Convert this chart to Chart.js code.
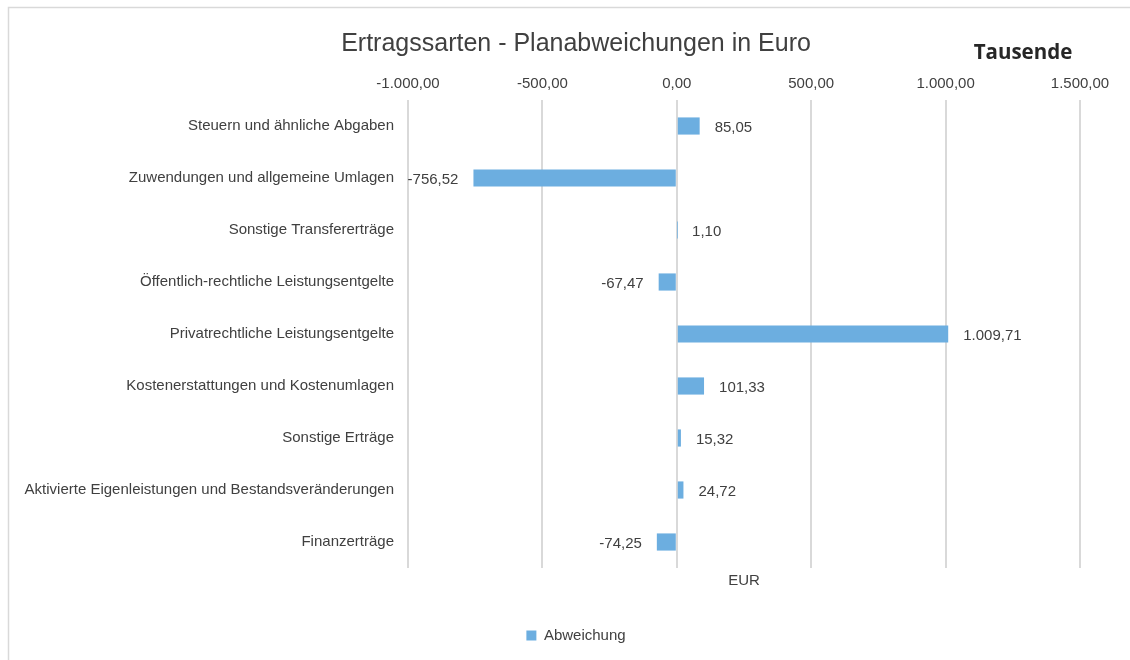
<!DOCTYPE html>
<html lang="de">
<head>
  <meta charset="UTF-8" />
  <title>Ertragssarten - Planabweichungen in Euro</title>
  <script src="https://cdn.jsdelivr.net/npm/chart.js"></script>
  <style>
    * { margin: 0; padding: 0; box-sizing: border-box; }
    body { background: #ffffff; width: 1130px; height: 660px; overflow: hidden; }
    canvas { display: block; }
  </style>
</head>
<body>
  <canvas id="chart" width="1130" height="660"></canvas>

  <script>
    const categories = [
      "Steuern und ähnliche Abgaben",
      "Zuwendungen und allgemeine Umlagen",
      "Sonstige Transfererträge",
      "Öffentlich-rechtliche Leistungsentgelte",
      "Privatrechtliche Leistungsentgelte",
      "Kostenerstattungen und Kostenumlagen",
      "Sonstige Erträge",
      "Aktivierte Eigenleistungen und Bestandsveränderungen",
      "Finanzerträge"
    ];
    const abweichung = [85.05, -756.52, 1.10, -67.47, 1009.71, 101.33, 15.32, 24.72, -74.25];
    const xTicks = [-1000, -500, 0, 500, 1000, 1500];

    const textColor = '#404040';
    const barColor = '#6caee0';
    const gridColor = '#d9d9d9';
    const font = 'Liberation Sans, Arial, sans-serif';

    // 1.234,56 style
    function fmtDE(v) {
      const parts = Math.abs(v).toFixed(2).split('.');
      const int = parts[0].replace(/\B(?=(\d{3})+(?!\d))/g, '.');
      return (v < 0 ? '-' : '') + int + ',' + parts[1];
    }

    // frame, value labels and extra texts
    const extras = {
      id: 'extras',
      beforeDraw(chart) {
        const ctx = chart.ctx;
        ctx.save();
        ctx.fillStyle = '#fff';
        ctx.fillRect(0, 0, chart.width, chart.height);
        ctx.strokeStyle = gridColor;
        ctx.lineWidth = 1.5;
        ctx.beginPath();
        ctx.moveTo(8.5, chart.height);
        ctx.lineTo(8.5, 7.5);
        ctx.lineTo(chart.width, 7.5);
        ctx.stroke();
        ctx.restore();
      },
      afterDatasetsDraw(chart) {
        const ctx = chart.ctx;
        const area = chart.chartArea;
        ctx.save();
        ctx.fillStyle = textColor;
        ctx.font = '15px ' + font;
        ctx.textBaseline = 'middle';
        chart.getDatasetMeta(0).data.forEach((bar, i) => {
          const v = abweichung[i];
          if (v >= 0) {
            ctx.textAlign = 'left';
            ctx.fillText(fmtDE(v), bar.x + 15, bar.y + 2);
          } else {
            ctx.textAlign = 'right';
            ctx.fillText(fmtDE(v), bar.x - 15, bar.y + 2);
          }
        });
        ctx.textAlign = 'center';
        ctx.fillText('EUR', (area.left + area.right) / 2, area.bottom + 13);
        ctx.font = 'bold 20.5px "Open Sans", sans-serif';
        ctx.fillStyle = '#262626';
        ctx.fillText('Tausende', area.right - 57, 53);
        ctx.restore();
      }
    };

    new Chart(document.getElementById('chart'), {
      type: 'bar',
      data: {
        labels: categories,
        datasets: [{
          label: 'Abweichung',
          data: abweichung,
          backgroundColor: barColor,
          borderWidth: 0,
          categoryPercentage: 1,
          barPercentage: 0.33
        }]
      },
      options: {
        indexAxis: 'y',
        responsive: false,
        animation: false,
        layout: { padding: { left: 22, right: 0, top: 0, bottom: 7 } },
        plugins: {
          title: {
            display: true,
            text: 'Ertragssarten - Planabweichungen in Euro',
            color: textColor,
            font: { family: font, size: 25, weight: 'normal' },
            padding: { top: 29, bottom: 6 }
          },
          legend: {
            position: 'bottom',
            labels: {
              color: textColor,
              font: { family: font, size: 15 },
              boxWidth: 10,
              boxHeight: 10,
              padding: 60
            }
          },
          tooltip: { enabled: false }
        },
        scales: {
          x: {
            position: 'top',
            min: xTicks[0],
            max: xTicks[xTicks.length - 1],
            afterBuildTicks(scale) { scale.ticks = xTicks.map(v => ({ value: v })); },
            afterFit(scale) { scale.height = 100 - 65; },
            ticks: {
              color: textColor,
              font: { family: font, size: 15 },
              padding: 7,
              callback: v => fmtDE(v)
            },
            grid: { color: gridColor, lineWidth: 2, drawTicks: false },
            border: { display: false }
          },
          y: {
            afterFit(scale) { scale.width = 408 - 22; },
            ticks: {
              color: textColor,
              font: { family: font, size: 15 },
              padding: 14
            },
            grid: { display: false, drawTicks: false },
            border: { display: false }
          },
          // empty right-hand spacer so the plot ends where the reference does
          yRight: {
            type: 'linear',
            position: 'right',
            afterFit(scale) { scale.width = 50; },
            ticks: { display: false },
            grid: { display: false, drawTicks: false },
            border: { display: false }
          }
        }
      },
      plugins: [extras]
    });
  </script>
</body>
</html>
